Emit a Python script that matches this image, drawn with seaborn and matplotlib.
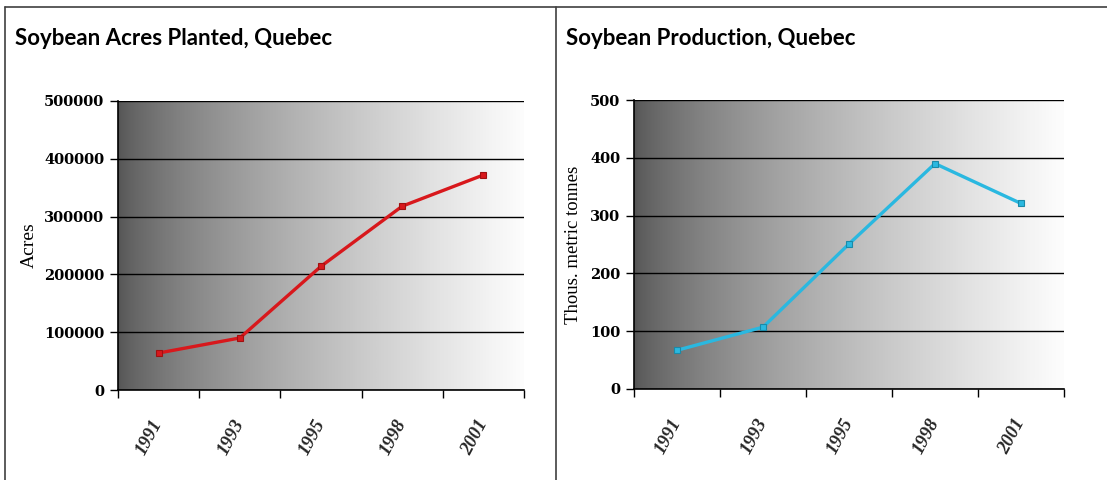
import matplotlib
matplotlib.use("Agg")
import matplotlib.pyplot as plt
import numpy as np
import pandas as pd
import seaborn as sns
from matplotlib.lines import Line2D
from matplotlib.ticker import FixedLocator

# Data
years = ["1991", "1993", "1995", "1998", "2001"]
acres = [64000, 90000, 214000, 318000, 372000]
production = [67, 107, 251, 390, 321]

sns.set_theme(style="white")
plt.rcParams["font.family"] = ["DejaVu Serif"]

fig = plt.figure(figsize=(11.07, 4.8), dpi=100)

# panel frame lines (Excel chart borders)
fig.add_artist(Line2D([5 / 1107, 1], [1 - 7 / 480, 1 - 7 / 480], color="#404040", lw=1.2))
fig.add_artist(Line2D([5 / 1107, 5 / 1107], [0, 1 - 7 / 480], color="#404040", lw=1.2))
fig.add_artist(Line2D([556 / 1107, 556 / 1107], [0, 1 - 7 / 480], color="#404040", lw=1.2))

panels = [
    dict(rect=[118 / 1107, 1 - 390 / 480, 406 / 1107, 289 / 480],
         values=acres, ymax=500000, step=100000, color="#d8181c", edge="#a01010",
         title="Soybean Acres Planted, Quebec", title_x=15 / 1107,
         ylabel="Acres", ylabel_x=29 / 1107, ylabel_size=14),
    dict(rect=[634 / 1107, 1 - 389 / 480, 430 / 1107, 289 / 480],
         values=production, ymax=500, step=100, color="#2ab8e0", edge="#1a8aa8",
         title="Soybean Production, Quebec", title_x=566 / 1107,
         ylabel="Thous. metric tonnes", ylabel_x=574 / 1107, ylabel_size=13.5),
]

# horizontal gradient: dark grey on the left fading to near white
t = np.linspace(0, 1, 256)
grad = (0.33 + 0.66 * t ** 0.7).reshape(1, -1)

for p in panels:
    ax = fig.add_axes(p["rect"])
    df = pd.DataFrame({"year": years, "value": p["values"]})

    ax.imshow(grad, extent=[-0.5, 4.5, 0, p["ymax"]], aspect="auto",
              cmap="gray", vmin=0, vmax=1, zorder=-1, interpolation="bicubic")

    sns.pointplot(data=df, x="year", y="value", ax=ax, color=p["color"],
                  markers="s", errorbar=None, linewidth=2.4, markersize=5,
                  markeredgecolor=p["edge"], markeredgewidth=0.8)

    ax.set_xlim(-0.5, 4.5)
    ax.set_ylim(0, p["ymax"])
    ax.set_yticks(np.arange(0, p["ymax"] + 1, p["step"]))
    ax.set_axisbelow(True)
    ax.yaxis.grid(True, color="black", lw=1)
    ax.xaxis.grid(False)

    for s in ["top", "right"]:
        ax.spines[s].set_visible(False)
    for s in ["left", "bottom"]:
        ax.spines[s].set_color("black")
        ax.spines[s].set_linewidth(1.2)

    ax.xaxis.set_minor_locator(FixedLocator(np.arange(-0.5, 5, 1)))
    ax.tick_params(axis="x", which="major", length=0, pad=22)
    ax.tick_params(axis="x", which="minor", length=6, width=1, color="black", direction="out", bottom=True)
    ax.tick_params(axis="y", length=6, width=1, color="black", direction="out", left=True, pad=4)

    for lab in ax.get_xticklabels():
        lab.set_rotation(62)
        lab.set_ha("right")
        lab.set_va("center")
        lab.set_rotation_mode("anchor")
        lab.set_fontfamily("Liberation Serif")
        lab.set_fontweight("bold")
        lab.set_fontstyle("italic")
        lab.set_fontsize(13.5)
    for lab in ax.get_yticklabels():
        lab.set_fontfamily("DejaVu Serif")
        lab.set_fontweight("bold")
        lab.set_fontsize(10.5)
        lab.set_color("black")

    ax.set_xlabel("")
    ax.set_ylabel("")
    cy = p["rect"][1] + p["rect"][3] / 2
    fig.text(p["ylabel_x"], cy, p["ylabel"], rotation=90, ha="center", va="center",
             family="Liberation Serif", fontsize=p["ylabel_size"], color="black")
    fig.text(p["title_x"], 1 - 45 / 480, p["title"], ha="left", va="baseline",
             family="Lato", fontweight="bold", fontsize=16, color="black")

fig.savefig("out.png", dpi=100, facecolor="white")
